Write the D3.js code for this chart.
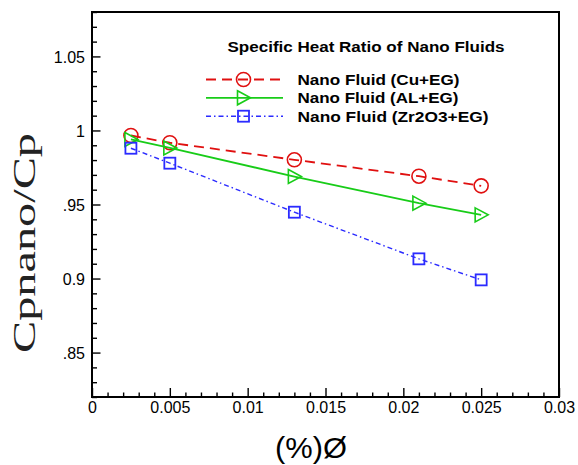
<!DOCTYPE html>
<html><head><meta charset="utf-8">
<script src="https://cdn.jsdelivr.net/npm/d3@7"></script>
<style>body{margin:0;background:#fff}svg{display:block}</style>
</head><body>
<svg id="c" width="578" height="465"></svg>
<script>
const phi = [0.0025, 0.005, 0.013, 0.021, 0.025];
const cuEG = [0.9966, 0.9917, 0.9802, 0.9691, 0.9626];
const alEG = [0.9939, 0.9882, 0.9689, 0.9509, 0.9430];
const zrEG = [0.9880, 0.9779, 0.9448, 0.9133, 0.8991];
const seriesNames = ["Nano Fluid (Cu+EG)", "Nano Fluid (AL+EG)", "Nano Fluid (Zr2O3+EG)"];
const xTicks = [0, 0.005, 0.01, 0.015, 0.02, 0.025, 0.03];
const xTickLabels = ["0", "0.005", "0.01", "0.015", "0.02", "0.025", "0.03"];
const yTicks = [0.85, 0.9, 0.95, 1.0, 1.05];
const yTickLabels = [".85", "0.9", ".95", "1", "1.05"];
const chartTitle = "Specific Heat Ratio of Nano Fluids";
const xTitle = "(%)\u00D8";
const yTitle = "Cpnano/Cp";

const svg = d3.select("#c");
const L = 92, R = 559, T = 12, B = 397;
const x = d3.scaleLinear().domain([0, 0.03]).range([L, R]);
const y = d3.scaleLinear().domain([0.82, 1.08]).range([B, T]);
const font = "'Liberation Sans', Arial, sans-serif";

// minor ticks
const xMinor = d3.range(0, 31).map(i => i * 0.001).filter(v => Math.round(v * 1000) % 5 !== 0);
const yMinor = d3.range(82, 109).map(i => i / 100).filter(v => Math.round(v * 100) % 5 !== 0);

const gxMinor = svg.append("g").attr("transform", `translate(0,${B})`)
  .call(d3.axisBottom(x).tickValues(xMinor).tickSize(-4.5).tickFormat(""));
const gyMinor = svg.append("g").attr("transform", `translate(${L},0)`)
  .call(d3.axisLeft(y).tickValues(yMinor).tickSize(-5).tickFormat(""));
const gx = svg.append("g").attr("transform", `translate(0,${B})`)
  .call(d3.axisBottom(x).tickValues(xTicks).tickSize(-9).tickPadding(0)
    .tickFormat((d, i) => xTickLabels[i]));
const gy = svg.append("g").attr("transform", `translate(${L},0)`)
  .call(d3.axisLeft(y).tickValues(yTicks).tickSize(-8.5).tickPadding(0)
    .tickFormat((d, i) => yTickLabels[i]));
[gxMinor, gyMinor, gx, gy].forEach(g => {
  g.select(".domain").remove();
  g.selectAll(".tick line").attr("stroke", "#000").attr("stroke-width", 1.4);
});
gx.selectAll(".tick text").attr("y", 16).attr("dy", 0).style("font-family", font).style("font-size", "16px").attr("fill", "#000");
gy.selectAll(".tick text").attr("x", -7).attr("dy", "0.36em").style("font-family", font).style("font-size", "16px").attr("fill", "#000");

// frame
svg.append("rect").attr("x", L).attr("y", T).attr("width", R - L).attr("height", B - T)
  .attr("fill", "none").attr("stroke", "#000").attr("stroke-width", 2);

const series = [
  { vals: cuEG, color: "#e01010", dash: "10,6", w: 1.8, marker: "circle" },
  { vals: alEG, color: "#18cc18", dash: null, w: 1.8, marker: "tri" },
  { vals: zrEG, color: "#2b2bff", dash: "5,3,1.5,3", w: 1.4, marker: "square" }
];

function drawMarker(g, type, cx, cy, color) {
  if (type === "circle") {
    g.append("circle").attr("cx", cx).attr("cy", cy).attr("r", 7)
      .attr("fill", "none").attr("stroke", color).attr("stroke-width", 1.6);
  } else if (type === "tri") {
    g.append("path").attr("d", `M${cx - 6},${cy - 7}L${cx + 7},${cy}L${cx - 6},${cy + 7}Z`)
      .attr("fill", "none").attr("stroke", color).attr("stroke-width", 1.6);
  } else {
    g.append("rect").attr("x", cx - 5.5).attr("y", cy - 5.5).attr("width", 11).attr("height", 11)
      .attr("fill", "none").attr("stroke", color).attr("stroke-width", 1.8);
  }
}

const line = d3.line().x(d => x(d[0])).y(d => y(d[1]));
series.forEach(s => {
  const pts = phi.map((p, i) => [p, s.vals[i]]);
  svg.append("path").attr("d", line(pts)).attr("fill", "none").attr("stroke", s.color)
    .attr("stroke-width", s.w).attr("stroke-dasharray", s.dash);
  const g = svg.append("g");
  pts.forEach(p => drawMarker(g, s.marker, x(p[0]), y(p[1]), s.color));
});

// legend
svg.append("text").attr("x", 366).attr("y", 51.5).attr("text-anchor", "middle")
  .style("font-family", font).style("font-weight", "bold").style("font-size", "14px")
  .attr("textLength", 277).attr("lengthAdjust", "spacingAndGlyphs").text(chartTitle);
const legY = [85, 103.3, 121.7];
const legLen = [162, 161, 191];
series.forEach((s, i) => {
  const ly = legY[i] - 5.5;
  svg.append("line").attr("x1", 206).attr("x2", 283).attr("y1", ly).attr("y2", ly)
    .attr("stroke", s.color).attr("stroke-width", s.w).attr("stroke-dasharray", s.dash);
  drawMarker(svg, s.marker, 243.5, ly, s.color);
  svg.append("text").attr("x", 297.5).attr("y", legY[i])
    .style("font-family", font).style("font-weight", "bold").style("font-size", "15.5px")
    .attr("textLength", legLen[i]).attr("lengthAdjust", "spacingAndGlyphs").text(seriesNames[i]);
});

// axis titles
svg.append("text").attr("x", 311).attr("y", 458).attr("text-anchor", "middle")
  .style("font-family", font).style("font-size", "29px").attr("textLength", 72)
  .attr("lengthAdjust", "spacingAndGlyphs").text(xTitle);
svg.append("text").attr("transform", "translate(35,243) rotate(-90)").attr("text-anchor", "middle")
  .style("font-family", "'Liberation Serif', 'Times New Roman', serif").style("font-size", "31px")
  .attr("fill", "#222")
  .attr("textLength", 220).attr("lengthAdjust", "spacingAndGlyphs").text(yTitle);
</script>
</body></html>
